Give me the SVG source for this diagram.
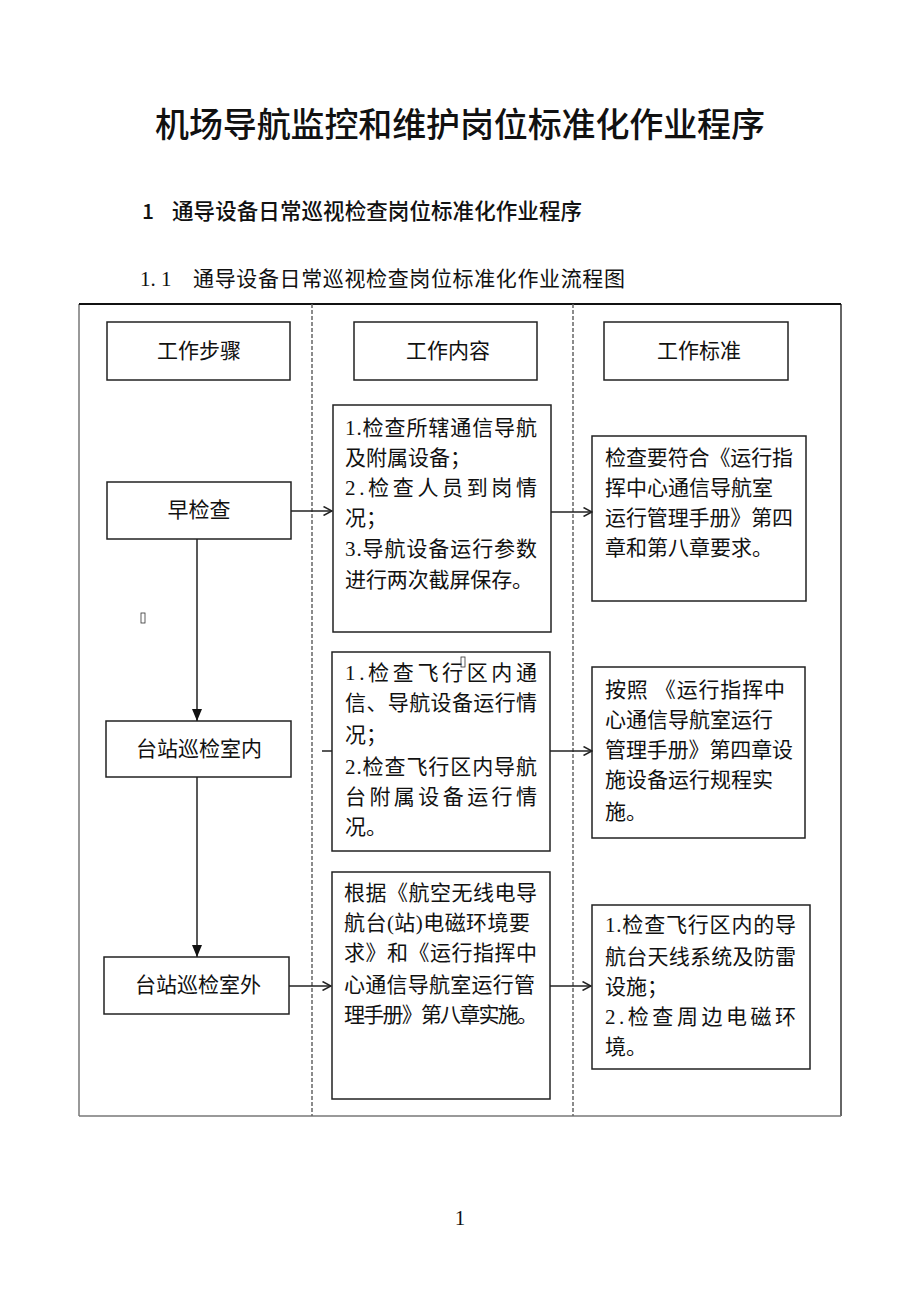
<svg xmlns="http://www.w3.org/2000/svg" width="920" height="1302" viewBox="0 0 920 1302">
<defs>
<style>
.t{font-family:"Liberation Serif","Noto Sans CJK SC",serif;font-size:21px;fill:#111}
.c{text-anchor:middle}
.hd{font-family:"Noto Sans CJK SC",sans-serif;fill:#111}
.box{fill:#fff;stroke:#222;stroke-width:1.5}
.conn{stroke:#222;stroke-width:1.5;fill:none}
.dash{stroke:#666;stroke-width:1.5;stroke-dasharray:4 2;fill:none}
</style>
<marker id="open" viewBox="0 0 10 10" refX="9.5" refY="5" markerWidth="10" markerHeight="10" markerUnits="userSpaceOnUse" orient="auto">
<path d="M1,0.5 L9.5,5 L1,9.5" fill="none" stroke="#222" stroke-width="1.5"/>
</marker>
<marker id="fill" viewBox="0 0 10 12" refX="5" refY="12" markerWidth="10" markerHeight="12" markerUnits="userSpaceOnUse" orient="0">
<path d="M0,0 L10,0 L5,12 Z" fill="#111"/>
</marker>
</defs>
<rect width="920" height="1302" fill="#fff"/>

<g id="titles">
<text class="hd c" x="460" y="137" font-size="34" font-weight="500" textLength="610" lengthAdjust="spacing">机场导航监控和维护岗位标准化作业程序</text>
<text class="hd" x="142" y="219" font-size="21" font-weight="500">1</text>
<text class="hd" x="172" y="219" font-size="21.5" font-weight="500" textLength="410" lengthAdjust="spacing">通导设备日常巡视检查岗位标准化作业程序</text>
<text class="t" x="140" y="286" font-size="22.5">1. 1</text>
<text class="t" x="193" y="286" font-size="22.5" textLength="432" lengthAdjust="spacing">通导设备日常巡视检查岗位标准化作业流程图</text>
</g>

<g id="frame">
<line x1="79" y1="304" x2="79" y2="1116" stroke="#777" stroke-width="1.5"/>
<line x1="841" y1="304" x2="841" y2="1116" stroke="#333" stroke-width="1.5"/>
<line x1="79" y1="304" x2="841" y2="304" stroke="#111" stroke-width="2"/>
<line x1="79" y1="1116" x2="841" y2="1116" stroke="#777" stroke-width="1.5"/>
<line class="dash" x1="312" y1="304" x2="312" y2="1116"/>
<line class="dash" x1="573" y1="304" x2="573" y2="1116"/>
</g>

<g id="h1"><rect class="box" x="107" y="322" width="183" height="58"/><text class="t c" x="199" y="358">工作步骤</text></g>
<g id="h2"><rect class="box" x="354" y="322" width="183" height="58"/><text class="t c" x="448" y="358">工作内容</text></g>
<g id="h3"><rect class="box" x="604" y="322" width="184" height="58"/><text class="t c" x="699" y="358">工作标准</text></g>

<g id="s1"><rect class="box" x="107" y="482" width="184" height="57"/><text class="t c" x="199" y="517">早检查</text></g>
<g id="s2"><rect class="box" x="106" y="721" width="185" height="56"/><text class="t c" x="199" y="756">台站巡检室内</text></g>
<g id="s3"><rect class="box" x="104" y="957" width="185" height="57"/><text class="t c" x="198" y="992">台站巡检室外</text></g>

<g id="m1"><rect class="box" x="333" y="405" width="218" height="227"/>
<text class="t" x="345" y="435" textLength="192" lengthAdjust="spacing">1.检查所辖通信导航</text>
<text class="t" x="345" y="465">及附属设备；</text>
<text class="t" x="345" y="495" textLength="192" lengthAdjust="spacing">2.检查人员到岗情</text>
<text class="t" x="345" y="525">况；</text>
<text class="t" x="345" y="556" textLength="192" lengthAdjust="spacing">3.导航设备运行参数</text>
<text class="t" x="345" y="587" textLength="188" lengthAdjust="spacing">进行两次截屏保存。</text>
</g>
<g id="m2"><rect class="box" x="332" y="652" width="218" height="199"/>
<text class="t" x="345" y="680" textLength="192" lengthAdjust="spacing">1.检查飞行区内通</text>
<rect x="461" y="657" width="4" height="10" fill="none" stroke="#333" stroke-width="0.8"/>
<text class="t" x="345" y="710" textLength="192" lengthAdjust="spacing">信、导航设备运行情</text>
<text class="t" x="345" y="742">况；</text>
<text class="t" x="345" y="774" textLength="192" lengthAdjust="spacing">2.检查飞行区内导航</text>
<text class="t" x="345" y="804" textLength="192" lengthAdjust="spacing">台附属设备运行情</text>
<text class="t" x="345" y="834">况。</text>
</g>
<g id="m3"><rect class="box" x="332" y="872" width="218" height="227"/>
<text class="t" x="344" y="900" textLength="193" lengthAdjust="spacing">根据《航空无线电导</text>
<text class="t" x="344" y="930" textLength="186" lengthAdjust="spacing">航台(站)电磁环境要</text>
<text class="t" x="344" y="960" textLength="193" lengthAdjust="spacing">求》和《运行指挥中</text>
<text class="t" x="344" y="992" textLength="191" lengthAdjust="spacing">心通信导航室运行管</text>
<text class="t" x="344" y="1022" textLength="194" lengthAdjust="spacing">理手册》第八章实施。</text>
</g>

<g id="r1"><rect class="box" x="592" y="436" width="214" height="165"/>
<text class="t" x="605" y="465" textLength="188" lengthAdjust="spacing">检查要符合《运行指</text>
<text class="t" x="605" y="495">挥中心通信导航室</text>
<text class="t" x="605" y="525" textLength="188" lengthAdjust="spacing">运行管理手册》第四</text>
<text class="t" x="605" y="555">章和第八章要求。</text>
</g>
<g id="r2"><rect class="box" x="592" y="667" width="213" height="171"/>
<text class="t" x="605" y="697" textLength="180" lengthAdjust="spacing">按照 《运行指挥中</text>
<text class="t" x="605" y="727">心通信导航室运行</text>
<text class="t" x="605" y="757" textLength="188" lengthAdjust="spacing">管理手册》第四章设</text>
<text class="t" x="605" y="787">施设备运行规程实</text>
<text class="t" x="605" y="819">施。</text>
</g>
<g id="r3"><rect class="box" x="592" y="905" width="218" height="164"/>
<text class="t" x="605" y="932" textLength="191" lengthAdjust="spacing">1.检查飞行区内的导</text>
<text class="t" x="605" y="964" textLength="191" lengthAdjust="spacing">航台天线系统及防雷</text>
<text class="t" x="605" y="994">设施；</text>
<text class="t" x="605" y="1024" textLength="191" lengthAdjust="spacing">2.检查周边电磁环</text>
<text class="t" x="605" y="1054">境。</text>
</g>

<g id="connectors">
<line class="conn" x1="197" y1="539" x2="197" y2="721" marker-end="url(#fill)"/>
<line class="conn" x1="197" y1="777" x2="197" y2="957" marker-end="url(#fill)"/>
<line class="conn" x1="291" y1="511" x2="332" y2="511" marker-end="url(#open)"/>
<line class="conn" x1="551" y1="512" x2="592" y2="512" marker-end="url(#open)"/>
<line class="conn" x1="322" y1="751" x2="332" y2="751"/>
<line class="conn" x1="550" y1="751" x2="592" y2="751" marker-end="url(#open)"/>
<line class="conn" x1="289" y1="986" x2="331" y2="986" marker-end="url(#open)"/>
<line class="conn" x1="550" y1="986" x2="591" y2="986" marker-end="url(#open)"/>
</g>

<rect x="141" y="613" width="4" height="10" fill="none" stroke="#333" stroke-width="0.8"/>
<text class="t c" x="460" y="1225" font-size="14">1</text>
</svg>
